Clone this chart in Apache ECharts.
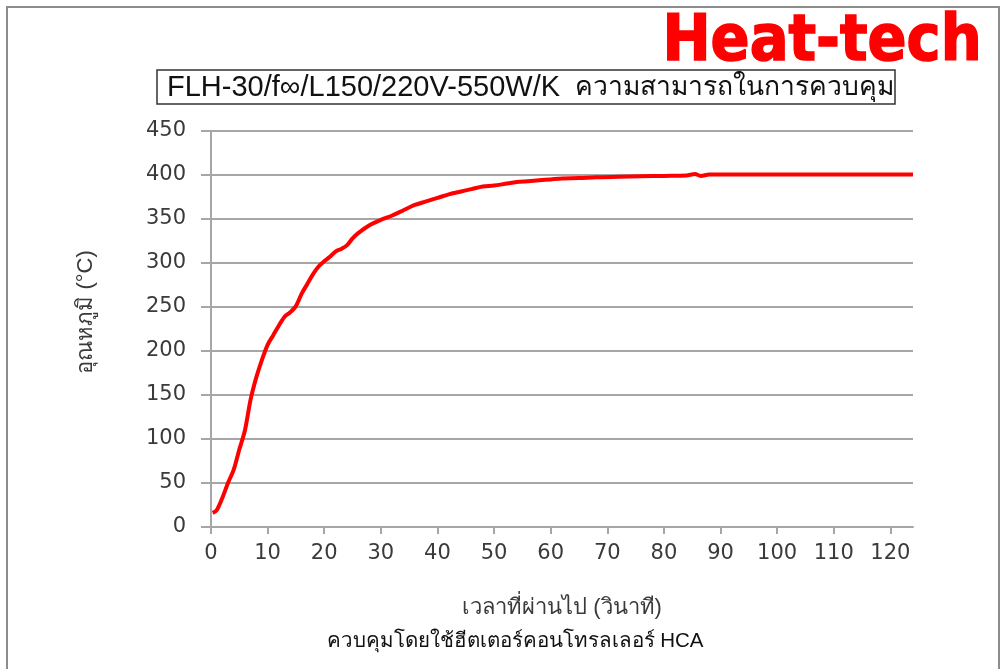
<!DOCTYPE html>
<html><head><meta charset="utf-8">
<script src="https://cdn.jsdelivr.net/npm/echarts@6/dist/echarts.min.js"></script>
<style>html,body{margin:0;padding:0;background:#fff}#c{width:1004px;height:669px}</style>
</head><body><div id="c"></div>
<script>
const titleModel = 'FLH-30/f\u221e/L150/220V-550W/K';
const titleThai = 'ความสามารถในการควบคุม';
const logoText = 'Heat-tech';
const xAxisName = 'เวลาที่ผ่านไป (วินาที)';
const yAxisName = 'อุณหภูมิ (°C)';
const footText = 'ควบคุมโดยใช้ฮีตเตอร์คอนโทรลเลอร์ HCA';
const xTicks = [0,10,20,30,40,50,60,70,80,90,100,110,120];
const yTicks = [0,50,100,150,200,250,300,350,400,450];
const timeSec = [0.3,1,2,3,4,5,6,7,8,9,10,11,12,13,14,15,16,17,18,19,20,21,22,23,24,25,26,28,30,32,34,36,38,40,42,44,46,48,50,52,54,56,58,60,62,65,68,72,76,80,84,85.5,86.5,88,92,100,110,124];
const tempC = [16,19,33,50,65,88,110,145,170,190,207,218,229,239,244,251,265,276,287,296,302,307,313,316,320,328,334,343,349,354,360,366,370,374,378,381,384,387,388,390,392,393,394,395,396,396.5,397.5,398,398.5,399,399.5,401,399,400.5,400.5,400.5,400.5,400.5];

const chart = echarts.init(document.getElementById('c'));
const axisGray = '#a6a6a6';
const labelColor = '#3a3a3a';
chart.setOption({
  animation: false,
  backgroundColor: '#fff',
  grid: {left: 211, right: 91, top: 131, bottom: 142},
  xAxis: {
    type: 'value', min: 0, max: 124, interval: 10,
    name: xAxisName, nameLocation: 'middle', nameGap: 70,
    nameTextStyle: {color: labelColor, fontSize: 22, fontFamily: 'sans-serif'},
    axisLine: {show: true, lineStyle: {color: axisGray, width: 2}},
    axisTick: {show: true, length: 7, lineStyle: {color: axisGray, width: 2}, customValues: xTicks},
    axisLabel: {color: labelColor, fontSize: 21, fontFamily: 'DejaVu Sans', margin: 16, customValues: xTicks},
    splitLine: {show: false}
  },
  yAxis: {
    type: 'value', min: 0, max: 450, interval: 50,
    axisLine: {show: true, lineStyle: {color: axisGray, width: 2}},
    axisTick: {show: true, length: 10, lineStyle: {color: axisGray, width: 2}},
    axisLabel: {color: labelColor, fontSize: 21, fontFamily: 'DejaVu Sans', margin: 25},
    splitLine: {show: true, lineStyle: {color: axisGray, width: 2}}
  },
  series: [{
    type: 'line', showSymbol: false, smooth: 0.3,
    data: timeSec.map((t, i) => [t, tempC[i]]),
    lineStyle: {color: '#ff0000', width: 4},
    itemStyle: {color: '#ff0000'}
  }],
  graphic: [
    {type: 'rect', shape: {x: 7, y: 7, width: 992, height: 700}, style: {fill: 'none', stroke: '#8c8c8c', lineWidth: 2}, z: 10},
    {type: 'rect', shape: {x: 157, y: 70, width: 738, height: 34}, style: {fill: '#fff', stroke: '#333', lineWidth: 1.5}},
    {type: 'text', x: 167, y: 88, style: {
      text: '{a|' + titleModel + '}{b|  ' + titleThai + '}',
      align: 'left', verticalAlign: 'middle',
      rich: {
        a: {fontSize: 29, fontFamily: '"Liberation Sans", sans-serif', fill: '#111'},
        b: {fontSize: 26.5, fontFamily: 'sans-serif', fill: '#111'}
      }
    }},
    {type: 'text', x: 86, y: 312, rotation: Math.PI / 2, style: {text: yAxisName, fill: labelColor, font: '22px sans-serif', align: 'center', verticalAlign: 'middle'}},
    {type: 'text', x: 822, y: 43, style: {text: logoText, fill: '#ff0000', stroke: '#ff0000', lineWidth: 1.5, font: 'bold 64px "DejaVu Sans Condensed", "DejaVu Sans", sans-serif', align: 'center', verticalAlign: 'middle'}},
    {type: 'text', x: 515, y: 641, style: {text: footText, fill: '#111', font: '20.5px sans-serif', align: 'center', verticalAlign: 'middle'}}
  ]
});
</script></body></html>
